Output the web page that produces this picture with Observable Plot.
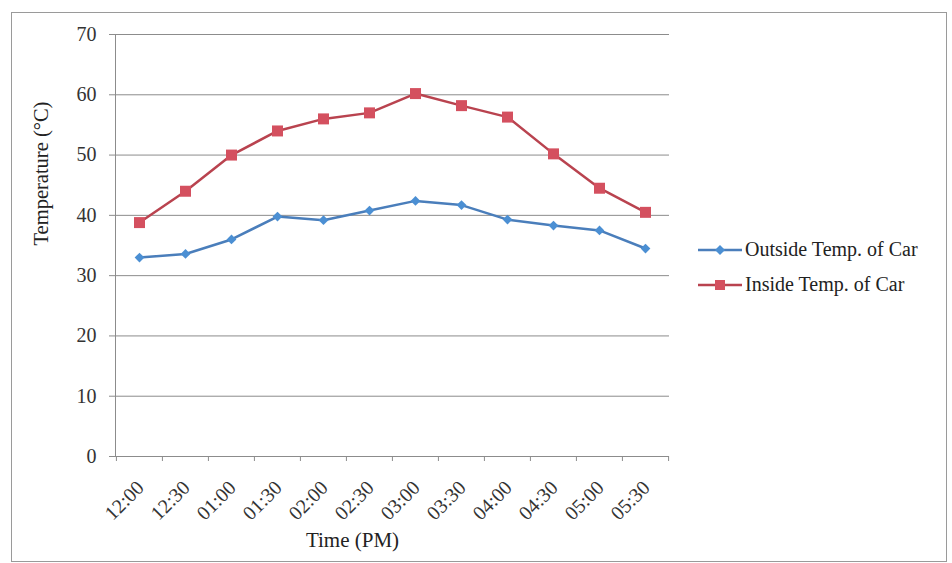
<!DOCTYPE html>
<html>
<head>
<meta charset="utf-8">
<script src="https://cdn.jsdelivr.net/npm/d3@7"></script>
<script src="https://cdn.jsdelivr.net/npm/@observablehq/plot@0.6"></script>
<style>
  body { margin: 0; background: #fff; }
  #wrap { position: relative; width: 952px; height: 563px; font-family: "Liberation Serif", "Times New Roman", serif; }
  #frame { position: absolute; left: 11px; top: 12px; width: 936px; height: 550px; border: 1px solid #9a9a9a; box-sizing: border-box; pointer-events: none; }
  #legend { position: absolute; left: 698px; top: 232px; font-size: 20px; color: #222; }
  .row { display: flex; align-items: center; height: 35px; }
  .row svg { margin-right: 3px; }
</style>
</head>
<body>
<div id="wrap">
  <div id="chart"></div>
  <div id="frame"></div>
  <div id="legend"></div>
</div>
<script>
const times = ["12:00","12:30","01:00","01:30","02:00","02:30","03:00","03:30","04:00","04:30","05:00","05:30"];
const outsideTemp = [33, 33.6, 36, 39.8, 39.2, 40.8, 42.4, 41.7, 39.3, 38.3, 37.5, 34.5];
const insideTemp = [38.8, 44, 50, 54, 56, 57, 60.2, 58.2, 56.3, 50.2, 44.5, 40.5];
const yTicks = [0, 10, 20, 30, 40, 50, 60, 70];
const seriesNames = ["Outside Temp. of Car", "Inside Temp. of Car"];
const lineColors = ["#4a7ebb", "#b9434f"];
const markerColors = ["#4b8fd3", "#d4505f"];
const markerSymbols = ["diamond2", "square"];

const rows = [];
times.forEach((t, i) => {
  rows.push({time: t, value: outsideTemp[i], series: seriesNames[0]});
  rows.push({time: t, value: insideTemp[i], series: seriesNames[1]});
});

const W = 952, ML = 115, MR = 283;
const halfStep = (W - ML - MR) / times.length / 2;

const chart = Plot.plot({
  width: W,
  height: 563,
  marginLeft: ML,
  marginRight: MR,
  marginTop: 34,
  marginBottom: 107,
  style: {fontFamily: "'Liberation Serif', 'Times New Roman', serif", background: "transparent"},
  x: {type: "point", domain: times, padding: 0.5},
  y: {domain: [0, 70]},
  color: {domain: seriesNames, range: lineColors},
  marks: [
    Plot.ruleY(yTicks, {stroke: "#8c8c8c", strokeWidth: 1, insetLeft: -6}),
    Plot.ruleX(times, {x: d => d, y1: 0, y2: 0, insetBottom: -5, dx: -halfStep, stroke: "#8c8c8c"}),
    Plot.ruleX(times.slice(-1), {x: d => d, y1: 0, y2: 0, insetBottom: -5, dx: halfStep, stroke: "#8c8c8c"}),
    Plot.axisY({ticks: yTicks, tickSize: 0, tickPadding: 19, fontSize: 20, fill: "#333", label: null}),
    Plot.axisX({tickSize: 0, tickRotate: -45, textAnchor: "end", fontSize: 20, fill: "#333", tickPadding: 20, dx: 1, dy: 8, label: null}),
    Plot.frame({anchor: "left", stroke: "#8c8c8c"}),
    Plot.text(["Temperature (°C)"], {frameAnchor: "left", dx: -74, rotate: -90, fontSize: 20.5, fill: "#222"}),
    Plot.text(["Time (PM)"], {frameAnchor: "bottom", dy: 90, dx: -40, fontSize: 21, fill: "#222"}),
    Plot.line(rows, {x: "time", y: "value", stroke: "series", strokeWidth: 2.5}),
    Plot.dot(rows.filter(d => d.series === seriesNames[0]), {x: "time", y: "value", symbol: () => markerSymbols[0], r: 4.4, fill: markerColors[0], stroke: "none"}),
    Plot.dot(rows.filter(d => d.series === seriesNames[1]), {x: "time", y: "value", symbol: () => markerSymbols[1], r: 6.2, fill: markerColors[1], stroke: "none"})
  ]
});
document.getElementById("chart").appendChild(chart);

const legend = document.getElementById("legend");
seriesNames.forEach((name, i) => {
  const row = document.createElement("div");
  row.className = "row";
  const marker = i === 0
    ? `<path d="M22,-5 L27,0 L22,5 L17,0 Z" transform="translate(0,7)" fill="${markerColors[i]}"/>`
    : `<rect x="17" y="2" width="10" height="10" fill="${markerColors[i]}"/>`;
  row.innerHTML = `<svg width="44" height="14"><line x1="0" y1="7" x2="44" y2="7" stroke="${lineColors[i]}" stroke-width="2.5"/>${marker}</svg><span>${name}</span>`;
  legend.appendChild(row);
});
</script>
</body>
</html>
